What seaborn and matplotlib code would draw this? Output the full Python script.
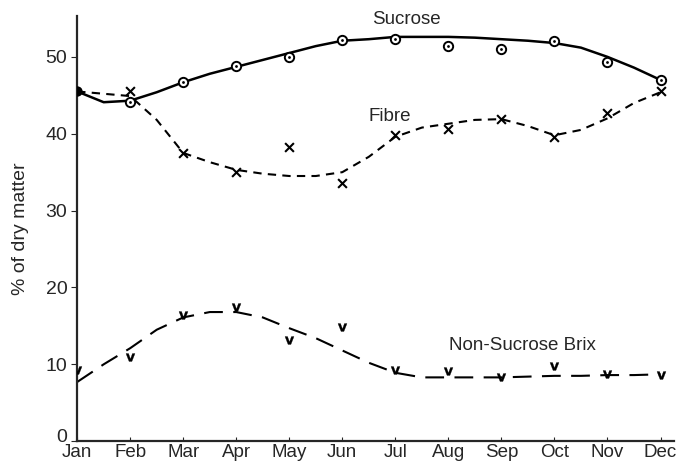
import seaborn as sns
import matplotlib.pyplot as plt
import matplotlib.transforms as mtransforms
import pandas as pd

# monthly measurements (% of dry matter)
months = ["Jan", "Feb", "Mar", "Apr", "May", "Jun",
          "Jul", "Aug", "Sep", "Oct", "Nov", "Dec"]
sucrose = [45.5, 44.1, 46.7, 48.8, 50.0, 52.2, 52.3, 51.4, 51.0, 52.0, 49.3, 47.0]
fibre = [45.5, 45.6, 37.5, 35.0, 38.3, 33.6, 39.8, 40.6, 41.9, 39.6, 42.7, 45.6]
brix = [9.2, 10.9, 16.4, 17.4, 13.2, 14.9, 9.2, 9.1, 8.4, 9.8, 8.7, 8.6]

# hand-fitted curves at half-month steps
curve_pos = [0, 0.5, 1, 1.5, 2, 2.5, 3, 3.5, 4, 4.5, 5, 5.5,
             6, 6.5, 7, 7.5, 8, 8.5, 9, 9.5, 10, 10.5, 11]
sucrose_fit = [45.5, 44.1, 44.3, 45.4, 46.7, 47.8, 48.7, 49.6, 50.5, 51.4, 52.1, 52.3,
               52.6, 52.6, 52.6, 52.5, 52.3, 52.1, 51.8, 51.2, 50.0, 48.6, 47.0]
fibre_fit = [45.5, 45.2, 44.9, 41.8, 37.5, 36.3, 35.3, 34.8, 34.5, 34.5, 35.0, 37.0,
             39.6, 40.8, 41.3, 41.8, 41.9, 41.0, 39.8, 40.5, 42.0, 44.0, 45.4]
brix_fit = [7.7, 10.0, 12.1, 14.5, 16.1, 16.8, 16.8, 16.1, 14.7, 13.4, 11.8, 10.2,
            8.9, 8.3, 8.3, 8.3, 8.3, 8.4, 8.5, 8.5, 8.6, 8.6, 8.7]

pts = pd.DataFrame({"m": range(12), "sucrose": sucrose, "fibre": fibre, "brix": brix})
fits = pd.DataFrame({"m": curve_pos, "sucrose": sucrose_fit, "fibre": fibre_fit, "brix": brix_fit})

sns.set_style("ticks")
plt.rcParams["font.family"] = ["Liberation Sans", "DejaVu Sans"]

fig = plt.figure(figsize=(6.77, 4.61), dpi=100)
ax = fig.add_axes([0.114, 0.043, 0.882, 0.922])

sns.lineplot(data=fits, x="m", y="sucrose", ax=ax, color="black", lw=1.8)
sns.lineplot(data=fits, x="m", y="fibre", ax=ax, color="black", lw=1.5)
ax.lines[-1].set_dashes([4, 3])
sns.lineplot(data=fits, x="m", y="brix", ax=ax, color="black", lw=1.5)
ax.lines[-1].set_dashes([9, 5])

sns.scatterplot(data=pts.iloc[1:], x="m", y="sucrose", ax=ax, marker="o", s=45,
                facecolor="white", edgecolor="black", linewidth=1.4, zorder=5)
sns.scatterplot(data=pts.iloc[1:], x="m", y="sucrose", ax=ax, marker="o", s=4,
                color="black", linewidth=0, zorder=6)
sns.scatterplot(data=pts.iloc[1:], x="m", y="fibre", ax=ax, marker="x", s=40,
                color="black", linewidth=1.5, zorder=5)
sns.scatterplot(data=pts, x="m", y="brix", ax=ax, marker=r"$\mathbf{v}$", s=42,
                color="black", edgecolor="black", linewidth=0.2, zorder=5)
sns.scatterplot(data=pts.iloc[:1], x="m", y="sucrose", ax=ax, marker="o", s=55,
                color="black", linewidth=0, zorder=7)

ax.text(6.2, 54.8, "Sucrose", ha="center", va="center", fontsize=13.5)
ax.text(5.89, 42.2, "Fibre", ha="center", va="center", fontsize=13.5)
ax.text(8.4, 12.4, "Non-Sucrose Brix", ha="center", va="center", fontsize=13.5)

ax.set_xlim(0, 11.26)
ax.set_ylim(0, 55.3)
ax.set_xticks(range(12))
ax.set_xticklabels(months)
ax.set_yticks([0, 10, 20, 30, 40, 50])
ax.tick_params(axis="x", direction="in", length=3, pad=2, labelsize=13.5)
ax.tick_params(axis="y", direction="out", length=4, pad=3, labelsize=14)
zero = ax.get_yticklabels()[0]
zero.set_transform(zero.get_transform() + mtransforms.ScaledTranslation(0, 6 / 100, fig.dpi_scale_trans))
ax.set_xlabel("")
ax.set_ylabel("% of dry matter", fontsize=14, labelpad=12)
for s in ["top", "right"]:
    ax.spines[s].set_visible(False)
for s in ["left", "bottom"]:
    ax.spines[s].set_linewidth(1.6)

fig.savefig("out.png", dpi=100)
